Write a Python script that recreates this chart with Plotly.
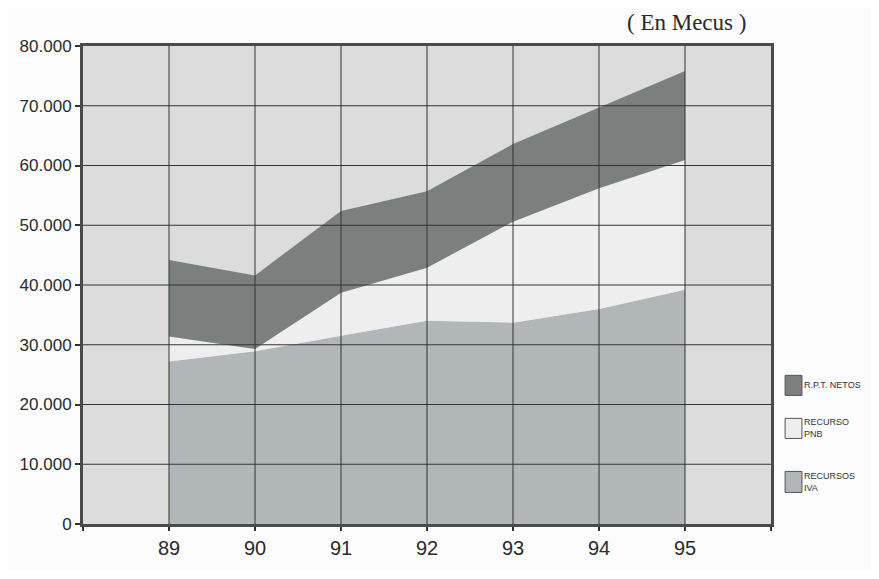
import plotly.graph_objects as go

# ---- data (millones de ECU) ----
years = [89, 90, 91, 92, 93, 94, 95]
year_labels = ["89", "90", "91", "92", "93", "94", "95"]
iva = [27200, 28900, 31500, 34000, 33700, 36000, 39200]
pnb = [4200, 400, 7200, 8900, 16900, 20200, 21700]
rpt = [12800, 12300, 13700, 12800, 13000, 13500, 14900]
series_names = ["RECURSOS IVA", "RECURSO PNB", "R.P.T. NETOS"]
legend_labels = ["R.P.T. NETOS", "RECURSO<br>PNB", "RECURSOS<br>IVA"]
y_ticks = [0, 10000, 20000, 30000, 40000, 50000, 60000, 70000, 80000]

colors = {"R.P.T. NETOS": "#7b807f", "RECURSO PNB": "#eeeeee", "RECURSOS IVA": "#b1b6b8"}

fig = go.Figure()
for name, vals in zip(series_names, [iva, pnb, rpt]):
    fig.add_trace(go.Scatter(
        x=years, y=vals, name=name, stackgroup="one", mode="lines",
        line=dict(width=0, color=colors[name]), fillcolor=colors[name],
        showlegend=False, hoverinfo="x+y+name"))

shapes = []
# gridlines drawn above the areas, as in the original
for yv in y_ticks[1:-1]:
    shapes.append(dict(type="line", xref="paper", yref="y", x0=0, x1=1, y0=yv, y1=yv,
                       line=dict(color="#333333", width=1), layer="above"))
for xv in years:
    shapes.append(dict(type="line", xref="x", yref="paper", x0=xv, x1=xv, y0=0, y1=1,
                       line=dict(color="#333333", width=1), layer="above"))

# manual legend
legend_colors = [colors["R.P.T. NETOS"], colors["RECURSO PNB"], colors["RECURSOS IVA"]]
leg_y = [(0.311, 0.269), (0.221, 0.179), (0.110, 0.066)]
annotations = []
for lab, col, (ya, yb) in zip(legend_labels, legend_colors, leg_y):
    shapes.append(dict(type="rect", xref="paper", yref="paper", x0=1.0205, x1=1.045,
                       y0=yb, y1=ya, fillcolor=col, line=dict(color="#555555", width=1)))
    annotations.append(dict(xref="paper", yref="paper", x=1.046, y=(ya + yb) / 2,
                            text=lab, showarrow=False, xanchor="left", yanchor="middle",
                            align="left", borderpad=0,
                            font=dict(family="Liberation Sans Narrow, Arial Narrow, Liberation Sans",
                                      size=9, color="#333333")))

annotations.append(dict(xref="paper", yref="paper", x=0.966, y=1.05, text="( En Mecus )",
                        showarrow=False, xanchor="right", yanchor="middle",
                        font=dict(family="Liberation Serif, Times New Roman", size=23, color="#2a2a2a")))

# the page body has an 8px margin, so the figure is 16px smaller and margins shifted
fig.update_layout(
    width=863, height=563,
    margin=dict(l=75, r=100, t=38, b=23),
    paper_bgcolor="#fcfcfc", plot_bgcolor="#dcdcdc",
    separators=",.",
    shapes=shapes, annotations=annotations,
    showlegend=False,
    xaxis=dict(range=[88, 96], tickvals=[88] + years + [96], ticktext=[""] + year_labels + [""],
               showgrid=False, zeroline=False, showline=True, linewidth=3, linecolor="#4a4a4a",
               mirror=True, ticks="outside", ticklen=4, tickwidth=2, tickcolor="#333333",
               layer="above traces",
               tickfont=dict(family="Liberation Sans Narrow, Arial Narrow, Liberation Sans", size=20,
                             color="#2a2a2a")),
    yaxis=dict(range=[0, 80000], tickvals=y_ticks, tickformat=",d",
               showgrid=False, zeroline=False, showline=True, linewidth=3, linecolor="#4a4a4a",
               mirror=True, ticks="outside", ticklen=5, tickwidth=2, tickcolor="#333333",
               layer="above traces",
               tickfont=dict(family="Liberation Sans, Arial", size=17, color="#2a2a2a")),
)

fig.write_html("out.html")
